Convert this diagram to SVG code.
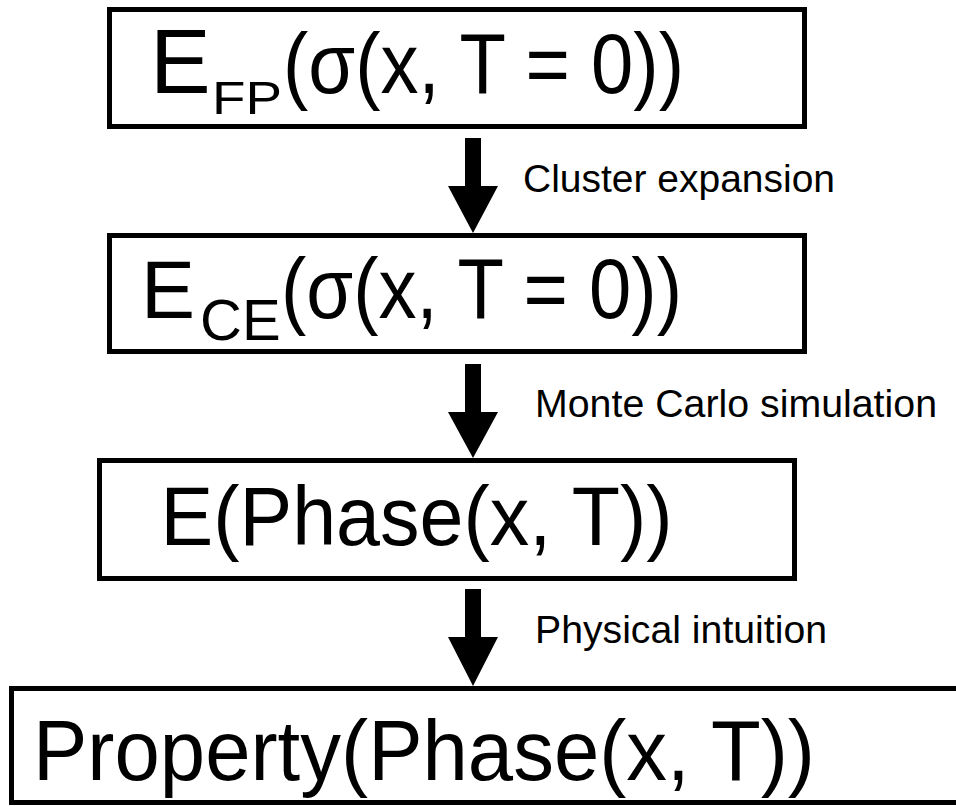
<svg xmlns="http://www.w3.org/2000/svg" width="956" height="806" viewBox="0 0 956 806">
<style>
.box{fill:#fff;stroke:#000;stroke-width:5}
.t{font-family:"Liberation Sans",Arial,sans-serif;fill:#000}
.lbl{font-family:"Liberation Sans",Arial,sans-serif;font-size:38px;fill:#000}
.arr{fill:#000;stroke:none}
</style>
<rect width="956" height="806" fill="#fff"/>
<g id="connectors">
<path class="arr" d="M465,138 H481 V186 H498 L473,233 L448,186 H465 Z"/>
<path class="arr" d="M465,364 H481 V412 H498 L473,458 L448,412 H465 Z"/>
<path class="arr" d="M465,589 H481 V637 H498 L473,686 L448,637 H465 Z"/>
<text class="lbl" x="523" y="192" textLength="312" lengthAdjust="spacingAndGlyphs">Cluster expansion</text>
<text class="lbl" x="535" y="417" textLength="402" lengthAdjust="spacingAndGlyphs">Monte Carlo simulation</text>
<text class="lbl" x="535" y="643" textLength="292" lengthAdjust="spacingAndGlyphs">Physical intuition</text>
</g>
<g id="node-efp">
<rect class="box" x="109.5" y="9.5" width="695" height="117"/>
<text class="t" x="150" y="93" font-size="91">E</text>
<text class="t" x="212" y="114" font-size="46" textLength="70" lengthAdjust="spacingAndGlyphs">FP</text>
<text class="t" x="283" y="93" font-size="86" textLength="401" lengthAdjust="spacingAndGlyphs">(σ(x, T = 0))</text>
</g>
<g id="node-ece">
<rect class="box" x="109.5" y="235.5" width="695" height="116"/>
<text class="t" x="141" y="318" font-size="81">E</text>
<text class="t" x="200" y="340" font-size="58">CE</text>
<text class="t" x="281" y="318" font-size="86" textLength="401" lengthAdjust="spacingAndGlyphs">(σ(x, T = 0))</text>
</g>
<g id="node-ephase">
<rect class="box" x="99.5" y="460.5" width="695" height="118"/>
<text class="t" x="160.5" y="545" font-size="84" textLength="512" lengthAdjust="spacingAndGlyphs">E(Phase(x, T))</text>
</g>
<g id="node-property">
<rect class="box" x="11.5" y="688.5" width="960" height="114"/>
<text class="t" x="33" y="780" font-size="86" textLength="782" lengthAdjust="spacingAndGlyphs">Property(Phase(x, T))</text>
</g>
</svg>
